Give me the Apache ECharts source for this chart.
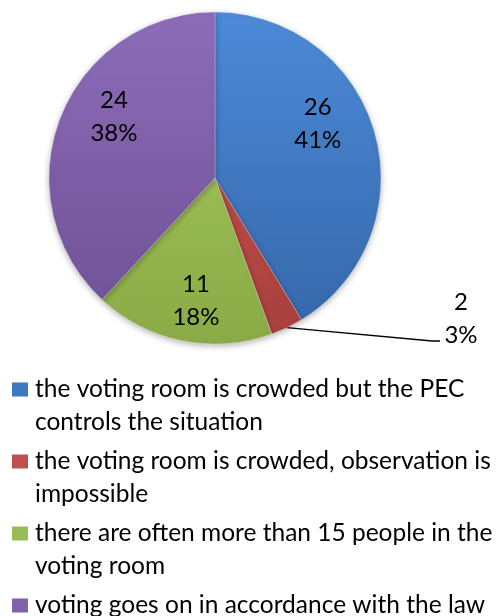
<!DOCTYPE html>
<html><head><meta charset="utf-8">
<script src="https://cdn.jsdelivr.net/npm/echarts@6/dist/echarts.min.js"></script>
<style>html,body{margin:0;padding:0;background:#fff}#c{width:501px;height:616px}</style>
</head><body><div id="c"></div>
<script>
// ---- data ----
const categories = [
  'the voting room is crowded but the PEC\ncontrols the situation',
  'the voting room is crowded, observation is\nimpossible',
  'there are often more than 15 people in the\nvoting room',
  'voting goes on in accordance with the law'
];
const values = [26, 2, 11, 24];

// ---- styles ----
const topColors = ['#4d8ad8', '#cc5551', '#abcd5e', '#8d6cb9'];
const bottomColors = ['#3466a8', '#a8403d', '#89aa46', '#6d5093'];
const flatColors = ['#3f77c2', '#c0504d', '#9bbb59', '#7f62a8'];
const labelShift = [[20, -31], [0, 0], [-2, 38], [-21, -30]];
const CX = 215, CY = 178, R = 166;
const FONT = 'Lato';
const FS = 24, LH = 33, LFS = 24.5;

const iconTwo = 'path://M0,0H18M0,0H16V14H0ZM0,47H18';
const iconOne = 'path://M0,0H18M0,9.5H16V23.5H0ZM0,33H18';

function grad(i) {
  return {
    type: 'linear', x: 0, y: CY - R, x2: 0, y2: CY + R, global: true,
    colorStops: [{offset: 0, color: topColors[i]}, {offset: 1, color: bottomColors[i]}]
  };
}

const chart = echarts.init(document.getElementById('c'), null, {renderer: 'canvas'});
chart.setOption({
  animation: false,
  backgroundColor: '#ffffff',
  legend: {
    orient: 'vertical',
    left: 12, top: 373, padding: 0,
    itemWidth: 18, itemHeight: 47, itemGap: 6,
    selectedMode: false,
    textStyle: {fontFamily: FONT, fontSize: LFS, lineHeight: LH, color: '#000'},
    data: categories.map((n, i) => ({
      name: n,
      icon: n.indexOf('\n') >= 0 ? iconTwo : iconOne,
      itemStyle: {color: flatColors[i], borderWidth: 0}
    }))
  },
  series: [{
    type: 'pie',
    center: [CX, CY],
    radius: R,
    startAngle: 90,
    clockwise: true,
    avoidLabelOverlap: false,
    percentPrecision: 0,
    itemStyle: {
      borderColor: 'rgba(255,255,255,0.25)', borderWidth: 1,
      shadowBlur: 6, shadowColor: 'rgba(0,0,0,0.3)', shadowOffsetY: 2
    },
    label: {
      show: true, position: 'inside',
      formatter: '{c}\n{d}%',
      fontFamily: FONT, fontSize: FS, lineHeight: LH, color: '#000'
    },
    labelLine: {show: false},
    labelLayout: function (p) {
      const i = p.dataIndex;
      if (i === 1) {
        const lx = 461, ly = 319;
        let p0 = p.labelLinePoints && p.labelLinePoints[0];
        if (!p0) {
          let a = (values[0] + values[1] / 2) / values.reduce((s, v) => s + v, 0) * 2 * Math.PI;
          p0 = [CX + R * Math.sin(a), CY - R * Math.cos(a)];
        }
        return {
          x: lx, y: ly, align: 'center', verticalAlign: 'middle',
          labelLinePoints: [p0, [lx - 29, ly + 22], [lx - 21, ly + 22]]
        };
      }
      return {dx: labelShift[i][0], dy: labelShift[i][1]};
    },
    data: categories.map((n, i) => {
      const d = {name: n, value: values[i], itemStyle: {color: grad(i)}};
      if (i === 1) {
        d.label = {position: 'outside'};
        d.labelLine = {show: true, length: 15, length2: 20, lineStyle: {color: '#000', width: 1.3}};
      }
      return d;
    })
  }]
});
</script></body></html>
